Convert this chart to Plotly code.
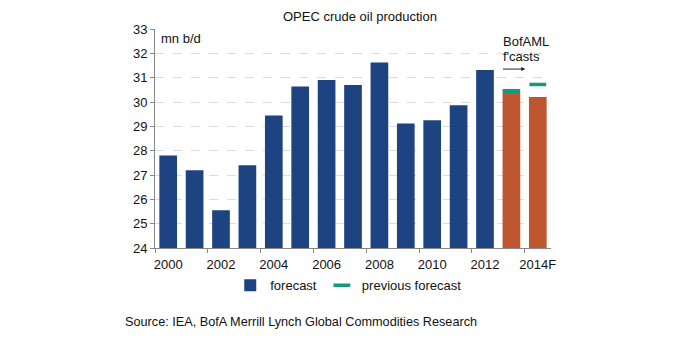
import plotly.graph_objects as go

years = ["2000", "2001", "2002", "2003", "2004", "2005", "2006", "2007",
         "2008", "2009", "2010", "2011", "2012", "2013", "2014F"]
actual_years = years[:13]
actual_values = [27.8, 27.2, 25.55, 27.4, 29.45, 30.64, 30.9, 30.7,
                 31.62, 29.12, 29.25, 29.87, 31.32]
fc_years = years[13:]
fc_values = [30.53, 30.21]
prev_fc_years = ["2013", "2014F"]
prev_fc_values = [30.43, 30.72]

BLUE = "#1D4380"
ORANGE = "#BE5630"
TEAL = "#14987F"
FONT = "Liberation Sans, Arial, sans-serif"

fig = go.Figure()
fig.add_trace(go.Bar(x=actual_years, y=actual_values, name="forecast",
                     marker=dict(color=BLUE, line=dict(width=0)), width=0.67))
fig.add_trace(go.Bar(x=fc_years, y=fc_values, name="BofAML forecast",
                     showlegend=False,
                     marker=dict(color=ORANGE, line=dict(width=0)), width=0.67))
fig.add_trace(go.Scatter(x=prev_fc_years, y=prev_fc_values, mode="markers",
                         name="previous forecast",
                         marker=dict(symbol="line-ew", size=12,
                                     line=dict(color=TEAL, width=3.5))))

fig.update_layout(
    width=692, height=338,
    margin=dict(l=155, r=141, t=29, b=90),
    paper_bgcolor="white", plot_bgcolor="white",
    barmode="overlay",
    font=dict(family=FONT, size=13, color="#111111"),
    showlegend=True,
    legend=dict(orientation="h", x=0.19, xanchor="left", y=-0.17,
                yanchor="middle", font=dict(size=13), itemwidth=30,
                tracegroupgap=0, bgcolor="rgba(0,0,0,0)"),
    xaxis=dict(type="category", categoryorder="array", categoryarray=years,
               tickmode="linear", dtick=2, tick0=0, tickangle=0,
               tickson="boundaries", ticks="outside", ticklen=4,
               ticklabelstandoff=4,
               tickcolor="#888888", showline=True, linecolor="#888888",
               linewidth=1, showgrid=False, tickfont=dict(size=13),
               range=[-0.5, 14.5]),
    yaxis=dict(range=[24, 33], dtick=1, tick0=24, ticks="outside",
               ticklen=4, tickcolor="#888888", showline=True,
               linecolor="#888888", linewidth=1, showgrid=True,
               gridcolor="#dcdcdc", griddash="dash", gridwidth=1,
               zeroline=False, tickfont=dict(size=13)),
    annotations=[
        dict(text="OPEC crude oil production", xref="paper", yref="paper",
             x=0.518, y=1.0, yshift=13, xanchor="center", yanchor="middle",
             showarrow=False, font=dict(size=13)),
        dict(text="mn b/d", xref="paper", yref="paper", x=0.01, y=0.955,
             xanchor="left", yanchor="middle", showarrow=False,
             font=dict(size=13)),
        dict(text="BofAML", xref="paper", yref="paper", x=0.873,
             y=0.941, xanchor="left", yanchor="middle", align="left",
             showarrow=False, font=dict(size=13)),
        dict(text="f'casts", xref="paper", yref="paper", x=0.873,
             y=0.873, xanchor="left", yanchor="middle", align="left",
             showarrow=False, font=dict(size=13)),
        dict(text="", xref="x domain", yref="y domain", x=0.935, y=0.817,
             ax=0.875, ay=0.817, axref="x domain", ayref="y domain",
             showarrow=True, arrowhead=2, arrowsize=0.8, arrowwidth=1,
             arrowcolor="#222222"),
        dict(text="Source: IEA, BofA Merrill Lynch Global Commodities Research",
             xref="paper", yref="paper", x=-0.08, y=-0.338,
             xanchor="left", yanchor="middle", showarrow=False,
             font=dict(size=12.7)),
    ],
)

fig.write_html("out.html")
